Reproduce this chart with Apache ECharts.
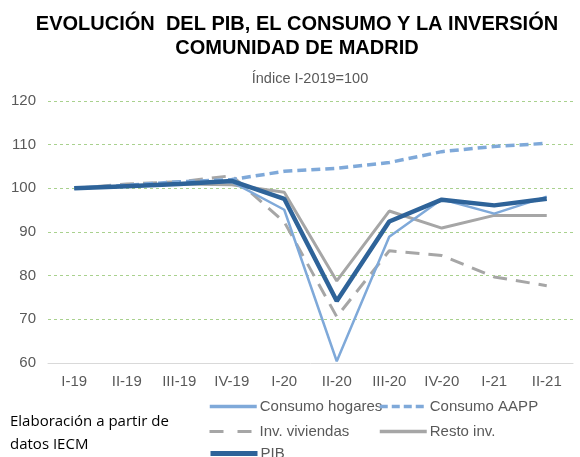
<!DOCTYPE html>
<html><head><meta charset="utf-8">
<script src="https://cdn.jsdelivr.net/npm/echarts@6/dist/echarts.min.js"></script>
<style>html,body{margin:0;padding:0;background:#fff}#c{width:580px;height:457px}</style>
</head><body><div id="c"></div>
<script>
const categories = ['I-19','II-19','III-19','IV-19','I-20','II-20','III-20','IV-20','I-21','II-21'];
const consumoHogares = [100, 100.5, 101, 101.5, 95.1, 60.4, 88.9, 97.5, 94.2, 98.1];
const consumoAAPP = [100, 100.7, 101.5, 102, 103.9, 104.6, 105.9, 108.4, 109.6, 110.3];
const invViviendas = [100, 101, 101.5, 102.9, 92.3, 70.6, 85.7, 84.6, 79.7, 77.7];
const restoInv = [100, 100.5, 101, 100.8, 99.1, 78.8, 94.8, 90.9, 93.8, 93.8];
const pib = [100, 100.5, 101, 101.7, 97.6, 74.2, 92.4, 97.4, 96.1, 97.6];
const yTicks = [60, 70, 80, 90, 100, 110, 120];

const LB = '#7FA9D9', DB = '#2E6399', GR = '#A6A6A6';
const FONT = '"Liberation Sans", Arial, sans-serif';
const chart = echarts.init(document.getElementById('c'), null, {renderer: 'canvas'});

function mk(name, data, color, width, type, z) {
  return {name, type: 'line', data, symbol: 'none', z: z,
    lineStyle: {color, width, type}, itemStyle: {color}};
}
function lg(name, left, top, width, type) {
  return {data: [name], left, top, itemWidth: 47, itemHeight: 14, itemGap: 0, padding: 0,
    itemStyle: {opacity: 0},
    lineStyle: {width: width, type: type},
    textStyle: {fontFamily: FONT, fontSize: 15, color: '#595959', padding: [0, 0, 0, -2]}};
}

chart.setOption({
  animation: false,
  title: [
    {text: 'EVOLUCIÓN  DEL PIB, EL CONSUMO Y LA INVERSIÓN\nCOMUNIDAD DE MADRID', left: 292, top: 7, textAlign: 'center',
     textStyle: {fontFamily: FONT, fontWeight: 'bold', fontSize: 20, color: '#000', lineHeight: 24}},
    {text: 'Índice I-2019=100', left: 305, top: 66, textAlign: 'center',
     textStyle: {fontFamily: FONT, fontWeight: 'normal', fontSize: 14.5, color: '#595959'}}
  ],
  legend: [
    lg('Consumo hogares', 208, 399, 3.5, 'solid'),
    lg('Consumo AAPP', 378, 399, 3.5, [8, 4]),
    lg('Inv. viviendas', 208, 424, 3, [14, 14]),
    lg('Resto inv.', 378, 424, 3.5, 'solid'),
    lg('PIB', 208, 446, 5, 'solid')
  ],
  grid: {left: 48, right: 7, top: 101, bottom: 94, containLabel: false},
  xAxis: {type: 'category', data: categories, boundaryGap: true,
    axisLine: {lineStyle: {color: '#D9D9D9', width: 1}}, axisTick: {show: false},
    axisLabel: {fontFamily: FONT, fontSize: 15, color: '#595959', margin: 11}},
  yAxis: {type: 'value', min: yTicks[0], max: yTicks[yTicks.length-1], interval: 10,
    axisLine: {show: false}, axisTick: {show: false},
    axisLabel: {fontFamily: FONT, fontSize: 15, color: '#595959', margin: 12},
    splitLine: {lineStyle: {color: '#A9D18E', type: [3, 3], width: 1}}},
  graphic: [
    {type: 'text', left: 10, top: 410, style: {text: 'Elaboración a partir de\ndatos IECM',
      fontFamily: '"Open Sans", sans-serif', fontSize: 15, lineHeight: 23, fill: '#000'}}
  ],
  series: [
    mk('Consumo hogares', consumoHogares, LB, 2.5, 'solid', 2),
    mk('Consumo AAPP', consumoAAPP, LB, 3.5, [9, 5], 2),
    mk('Inv. viviendas', invViviendas, GR, 3, [14, 9], 1),
    mk('Resto inv.', restoInv, GR, 3, 'solid', 1),
    mk('PIB', pib, DB, 4.5, 'solid', 3)
  ]
});
</script></body></html>
